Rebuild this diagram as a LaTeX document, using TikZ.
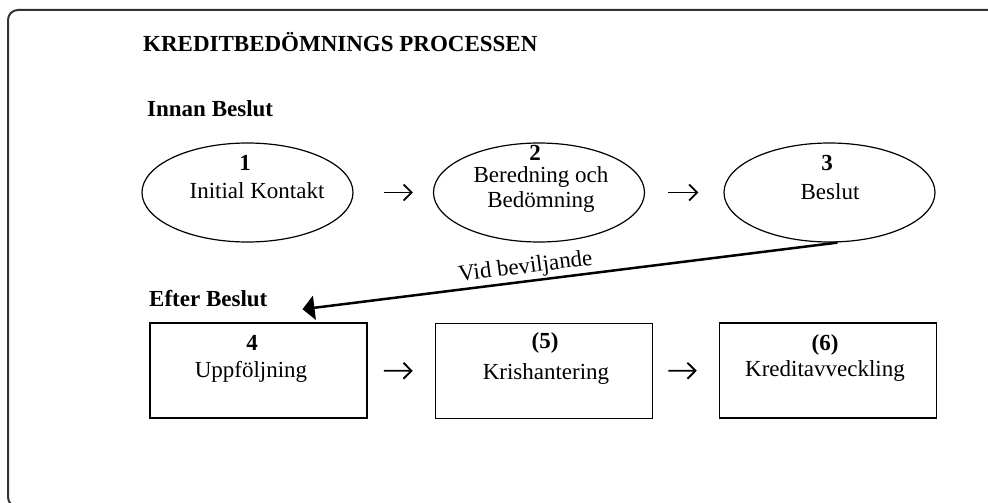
\documentclass[tikz,border=0pt]{standalone}
\usepackage{fontspec}
\setmainfont{Liberation Serif}
\usetikzlibrary{arrows.meta,shapes.geometric}

\begin{document}
\begin{tikzpicture}
[
  x=1pt,y=-1pt,
	frame/.style={line width=2pt,draw=black!80,rounded corners=10pt},
	phase/.style={ellipse,draw,line width=1.2pt,minimum width=211pt,minimum height=99pt,inner sep=0pt},
	stage/.style={rectangle,draw,line width=1.5pt,minimum width=217pt,minimum height=95pt,inner sep=0pt},
	txt/.style={font=\fontsize{23}{25}\selectfont,inner sep=0pt},
	num/.style={font=\bfseries\fontsize{23}{25}\selectfont,inner sep=0pt},
	head/.style={font=\bfseries\fontsize{23}{25}\selectfont,inner sep=0pt,anchor=base west},
	flow/.style={-{Straight Barb[length=8pt,width=16pt]},line width=1.8pt},
	grant/.style={{Triangle[length=12pt,width=24pt]}-,line width=2.5pt}
]

\useasboundingbox (0,0) rectangle (988,503);
\draw[frame] (8,10) rectangle (1010,507);

\node[head] (title) at(143,52) {KREDITBEDÖMNINGS PROCESSEN};
\node[head] (before) at(147,117) {Innan Beslut};
\node[head] (after) at(149,306) {Efter Beslut};

\node[phase] (ell1) at(247.5,192.5) {};
\node[phase] (ell2) at(539,192.5) {};
\node[phase] (ell3) at(829.5,192.5) {};

\node[num] (n1) at(245,163) {1};
\node[txt] (t1) at(257,191) {Initial Kontakt};
\node[num] (n2) at(535,153) {2};
\node[txt,align=center] (t2) at(541,190) {Beredning och\\Bedömning};
\node[num] (n3) at(827,163) {3};
\node[txt] (t3) at(830,192) {Beslut};

\draw[flow,shorten <=30pt,shorten >=20pt] (ell1) -- (ell2);
\draw[flow,shorten <=23pt,shorten >=25pt] (ell2) -- (ell3);


\node[stage] (box4) at(258.5,370.5) {};
\node[stage] (box5) at(544,371) {};
\node[stage] (box6) at(828,370.5) {};

\node[num] (n4) at(252,343) {4};
\node[txt] (t4) at(251,372) {Uppföljning};
\node[num] (n5) at(545,343) {(5)};
\node[txt] (t5) at(546,374) {Krishantering};
\node[num] (n6) at(825,345) {(6)};
\node[txt] (t6) at(825,371) {Kreditavveckling};

\draw[flow,shorten <=16pt,shorten >=22pt] (box4) -- (box5);
\draw[flow,shorten <=15pt,shorten >=22pt] (box5) -- (box6);

\coordinate (tip4) at ([xshift=44pt,yshift=13pt]box4.north);
\draw[grant] (tip4) -- ([xshift=8pt]ell3.south) node[txt,pos=0.42,sloped,above=2pt] {Vid beviljande};

\end{tikzpicture}
\end{document}
